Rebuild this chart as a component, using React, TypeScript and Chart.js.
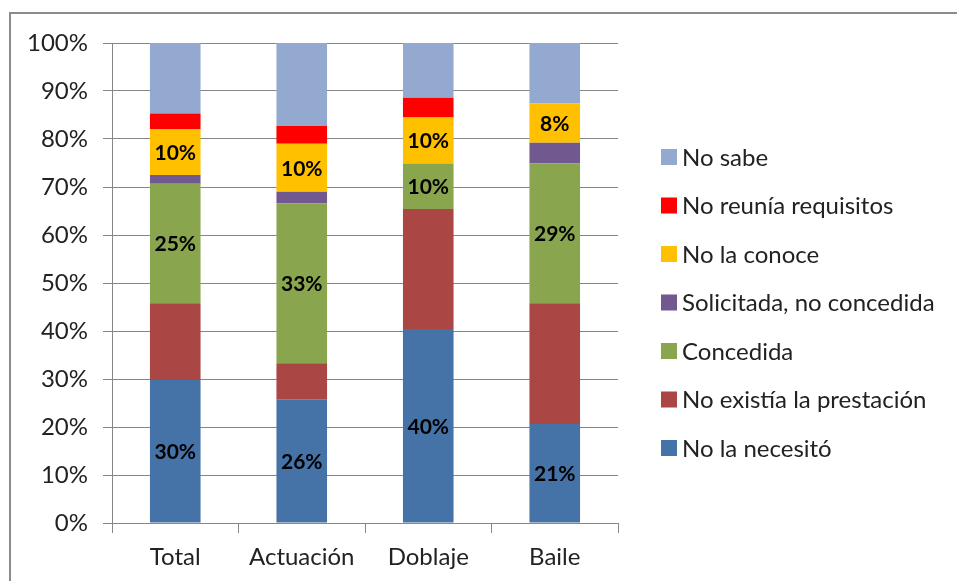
import React, { useEffect, useRef } from 'react';
import { Chart, registerables } from 'chart.js';

Chart.register(...registerables);

const categories = ['Total', 'Actuación', 'Doblaje', 'Baile'];
const noLaNecesito = [29.8, 25.8, 40.4, 20.6];
const noExistia = [16.0, 7.5, 25.0, 25.2];
const concedida = [24.9, 33.3, 9.5, 29.1];
const solicitadaNoConcedida = [1.8, 2.4, 0, 4.3];
const noLaConoce = [9.6, 10.0, 9.6, 8.2];
const noReuniaRequisitos = [3.2, 3.7, 4.1, 0];
const noSabe = [14.7, 17.3, 11.4, 12.6];

const seriesNames = [
  'No la necesitó',
  'No existía la prestación',
  'Concedida',
  'Solicitada, no concedida',
  'No la conoce',
  'No reunía requisitos',
  'No sabe',
];
const seriesValues = [noLaNecesito, noExistia, concedida, solicitadaNoConcedida, noLaConoce, noReuniaRequisitos, noSabe];
const seriesColors = ['#4572A7', '#AA4643', '#89A54E', '#71588F', '#FFC000', '#FF0000', '#93A9CF'];
const labelledSeries = [true, false, true, false, true, false, false];

const FONT = 'Lato';
const FONT_SIZE = 24;
const LABEL_SIZE = 21;
const TEXT_COLOR = '#222222';
const GRID_COLOR = '#868686';

const segmentLabels = {
  id: 'segmentLabels',
  afterDatasetsDraw(chart: any) {
    const ctx = chart.ctx;
    ctx.save();
    ctx.font = `bold ${LABEL_SIZE}px ${FONT}`;
    ctx.fillStyle = '#000000';
    ctx.textAlign = 'center';
    ctx.textBaseline = 'middle';
    chart.data.datasets.forEach((ds: any, i: number) => {
      if (!labelledSeries[i]) return;
      const meta = chart.getDatasetMeta(i);
      meta.data.forEach((el: any, j: number) => {
        const v = ds.data[j];
        if (!v) return;
        const p = el.getProps(['x', 'y', 'base'], true);
        ctx.fillText(Math.round(v) + '%', p.x, (p.y + p.base) / 2 + 1);
      });
    });
    ctx.restore();
  },
};

const sideLegend = {
  id: 'sideLegend',
  afterDraw(chart: any) {
    const ctx = chart.ctx;
    const area = chart.chartArea;
    const x0 = area.right + 43;
    const y0 = area.top + 114;
    const step = 48.5;
    ctx.save();
    ctx.font = `${FONT_SIZE}px ${FONT}`;
    ctx.textAlign = 'left';
    ctx.textBaseline = 'middle';
    const n = chart.data.datasets.length;
    for (let k = 0; k < n; k++) {
      const idx = n - 1 - k;
      const ds = chart.data.datasets[idx];
      const cy = y0 + k * step;
      ctx.fillStyle = ds.backgroundColor;
      ctx.fillRect(x0, cy - 8, 16, 16);
      ctx.fillStyle = TEXT_COLOR;
      ctx.fillText(ds.label, x0 + 21, cy + 1);
    }
    ctx.restore();
  },
};

export default function App() {
  const canvasRef = useRef<HTMLCanvasElement | null>(null);

  useEffect(() => {
    if (!canvasRef.current) return;
    const chart = new Chart(canvasRef.current, {
      type: 'bar',
      data: {
        labels: categories,
        datasets: seriesNames.map((name, i) => ({
          label: name,
          data: seriesValues[i],
          backgroundColor: seriesColors[i],
          borderWidth: 0,
          barPercentage: 0.4,
          categoryPercentage: 1,
        })),
      },
      options: {
        animation: false,
        responsive: true,
        maintainAspectRatio: false,
        layout: { padding: { left: 0, top: 43, right: 339, bottom: 0 } },
        plugins: {
          legend: { display: false },
          tooltip: { enabled: false },
        },
        scales: {
          x: {
            stacked: true,
            grid: {
              display: true,
              drawOnChartArea: false,
              drawTicks: true,
              tickLength: 10,
              color: GRID_COLOR,
              offset: true,
            },
            border: { color: GRID_COLOR, width: 1 },
            ticks: {
              font: { family: FONT, size: FONT_SIZE },
              color: TEXT_COLOR,
              padding: 10,
              maxRotation: 0,
            },
            afterFit: (s: any) => {
              s.height = 58;
            },
          },
          y: {
            stacked: true,
            min: 0,
            max: 100,
            ticks: {
              stepSize: 10,
              callback: (v: any) => v + '%',
              font: { family: FONT, size: FONT_SIZE },
              color: TEXT_COLOR,
              padding: 15,
            },
            grid: { color: GRID_COLOR, drawTicks: true, tickLength: 9 },
            border: { color: GRID_COLOR, width: 1 },
            afterFit: (s: any) => {
              s.width = 112;
            },
          },
        },
      },
      plugins: [segmentLabels, sideLegend],
    });
    return () => chart.destroy();
  }, []);

  return (
    <div style={{ position: 'fixed', left: 0, top: 0, width: 957, height: 581, background: '#ffffff', overflow: 'hidden' }}>
      <div
        style={{
          position: 'absolute',
          left: 9,
          top: 12,
          width: 1100,
          height: 1100,
          border: '2px solid #8c8c8c',
          boxSizing: 'border-box',
        }}
      />
      <canvas ref={canvasRef} style={{ position: 'absolute', left: 0, top: 0 }} />
    </div>
  );
}
